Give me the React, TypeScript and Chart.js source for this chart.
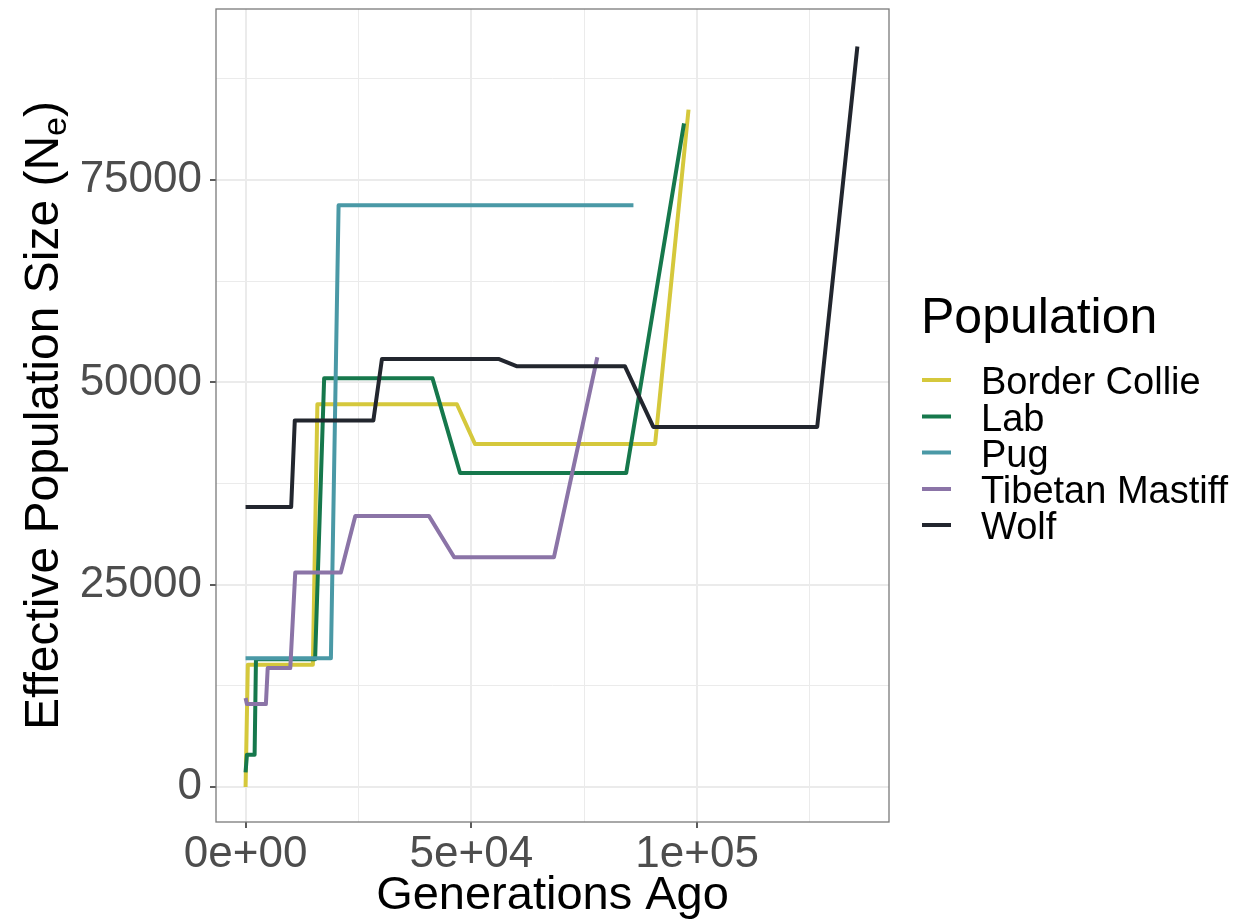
import React, { useEffect, useRef } from 'react';
import { Chart, registerables } from 'chart.js';

Chart.register(...registerables);

// Effective population size trajectories (generations ago vs. Ne)
const borderCollieGen = [0, 500, 14900, 15900, 46800, 50800, 90700, 98100];
const borderCollieNe = [0, 15100, 15100, 47300, 47300, 42400, 42400, 83700];

const labGen = [0, 300, 2000, 2300, 15400, 17400, 41400, 47500, 84300, 97100];
const labNe = [1800, 4000, 4000, 15800, 15800, 50500, 50500, 38800, 38800, 82000];

const pugGen = [0, 18900, 20600, 85900];
const pugNe = [15900, 15900, 71900, 71900];

const mastiffGen = [0, 300, 4500, 4900, 9900, 11000, 21100, 24300, 40600, 46200, 68300, 77900];
const mastiffNe = [11000, 10250, 10250, 14700, 14700, 26500, 26500, 33500, 33500, 28400, 28400, 53100];

const wolfGen = [0, 10100, 10900, 28300, 30200, 56000, 60000, 84000, 90300, 126600, 135500];
const wolfNe = [34600, 34600, 45300, 45300, 52900, 52900, 52000, 52000, 44500, 44500, 91500];

const populations = ['Border Collie', 'Lab', 'Pug', 'Tibetan Mastiff', 'Wolf'];
const populationColors = ['#D5C83C', '#16784C', '#4A99A6', '#8B74A7', '#22262E'];
const seriesGen = [borderCollieGen, labGen, pugGen, mastiffGen, wolfGen];
const seriesNe = [borderCollieNe, labNe, pugNe, mastiffNe, wolfNe];

// Axis ticks
const xMajorTicks = [0, 50000, 100000];
const xTickLabels = ['0e+00', '5e+04', '1e+05'];
const xMinorTicks = [25000, 75000, 125000];
const yMajorTicks = [0, 25000, 50000, 75000];
const yTickLabels = ['0', '25000', '50000', '75000'];
const yMinorTicks = [12500, 37500, 62500, 87500];

const FONT = "'Liberation Sans', Arial, Helvetica, sans-serif";
const GRID = '#EBEBEB';
const TICK_TEXT = '#4D4D4D';
const TICK_MARK = '#333333';

const W = 1244;
const H = 924;

function gridOptions(major: number[]) {
  const isMajor = (v: number) => major.indexOf(v) >= 0;
  return {
    color: GRID,
    lineWidth: (c: any) => (isMajor(c.tick?.value) ? 2 : 1),
    drawTicks: true,
    tickLength: 6,
    tickColor: (c: any) => (isMajor(c.tick?.value) ? TICK_MARK : 'rgba(0,0,0,0)'),
    tickWidth: 1.6,
  };
}

const decorPlugin = {
  id: 'decor',
  afterDraw(chart: any) {
    const { ctx, chartArea: a } = chart;
    ctx.save();

    // panel border
    ctx.strokeStyle = '#7A7A7A';
    ctx.lineWidth = 1.3;
    ctx.strokeRect(a.left, a.top, a.right - a.left, a.bottom - a.top);

    // y-axis title with subscript e
    const main = 'Effective Population Size (N';
    const sub = 'e';
    const close = ')';
    const big = 48;
    const small = 34;
    ctx.fillStyle = '#000';
    ctx.textBaseline = 'alphabetic';
    ctx.textAlign = 'left';
    ctx.font = `${big}px ${FONT}`;
    const w1 = ctx.measureText(main).width;
    const w3 = ctx.measureText(close).width;
    ctx.font = `${small}px ${FONT}`;
    const w2 = ctx.measureText(sub).width;
    const total = w1 + w2 + w3;
    ctx.translate(58, (a.top + a.bottom) / 2);
    ctx.rotate(-Math.PI / 2);
    let x = -total / 2;
    ctx.font = `${big}px ${FONT}`;
    ctx.fillText(main, x, 0);
    x += w1;
    ctx.font = `${small}px ${FONT}`;
    ctx.fillText(sub, x, 8);
    x += w2;
    ctx.font = `${big}px ${FONT}`;
    ctx.fillText(close, x, 0);
    ctx.setTransform(1, 0, 0, 1, 0, 0);

    // legend
    ctx.fillStyle = '#000';
    ctx.font = `50px ${FONT}`;
    ctx.fillText('Population', 921, 333);
    const rowY = [380, 416.5, 452.5, 489, 525];
    ctx.font = `38px ${FONT}`;
    populations.forEach((name, i) => {
      ctx.strokeStyle = populationColors[i];
      ctx.lineWidth = 4;
      ctx.lineCap = 'butt';
      ctx.beginPath();
      ctx.moveTo(922, rowY[i]);
      ctx.lineTo(951, rowY[i]);
      ctx.stroke();
      ctx.fillStyle = '#000';
      ctx.fillText(name, 981, rowY[i] + 14);
    });
    ctx.restore();
  },
};

export default function App() {
  const canvasRef = useRef<HTMLCanvasElement | null>(null);

  useEffect(() => {
    if (!canvasRef.current) return;
    const datasets = populations.map((name, i) => ({
      label: name,
      data: seriesGen[i].map((g, j) => ({ x: g, y: seriesNe[i][j] })),
      borderColor: populationColors[i],
      backgroundColor: populationColors[i],
      borderWidth: 4,
      borderJoinStyle: 'round' as const,
      borderCapStyle: 'butt' as const,
      pointRadius: 0,
      tension: 0,
      fill: false,
      order: populations.length - i,
    }));

    const chart = new Chart(canvasRef.current, {
      type: 'line',
      data: { datasets },
      plugins: [decorPlugin],
      options: {
        animation: false,
        responsive: false,
        devicePixelRatio: 1,
        layout: { padding: { top: 9, right: W - 889, bottom: 0, left: 0 } },
        plugins: {
          legend: { display: false },
          tooltip: { enabled: false },
        },
        scales: {
          x: {
            type: 'linear',
            min: -6550,
            max: 142500,
            afterBuildTicks: (s: any) => {
              s.ticks = [...xMajorTicks, ...xMinorTicks].sort((p, q) => p - q).map((v) => ({ value: v }));
            },
            afterFit: (s: any) => {
              s.height = H - 822;
              s.paddingLeft = 0;
              s.paddingRight = 0;
            },
            grid: gridOptions(xMajorTicks),
            border: { display: false },
            ticks: {
              autoSkip: false,
              maxRotation: 0,
              minRotation: 0,
              padding: 5,
              color: TICK_TEXT,
              font: { family: FONT, size: 44, lineHeight: 1 },
              callback: (v: any) => {
                const k = xMajorTicks.indexOf(Number(v));
                return k >= 0 ? xTickLabels[k] : '';
              },
            },
            title: {
              display: true,
              text: 'Generations Ago',
              color: '#000',
              font: { family: FONT, size: 47, lineHeight: 1 },
              padding: { top: 0, bottom: 4 },
            },
          },
          y: {
            type: 'linear',
            min: -4325,
            max: 96140,
            afterBuildTicks: (s: any) => {
              s.ticks = [...yMajorTicks, ...yMinorTicks].sort((p, q) => p - q).map((v) => ({ value: v }));
            },
            afterFit: (s: any) => {
              s.width = 216;
              s.paddingTop = 0;
              s.paddingBottom = 0;
            },
            grid: gridOptions(yMajorTicks),
            border: { display: false },
            ticks: {
              autoSkip: false,
              padding: 8,
              color: TICK_TEXT,
              font: { family: FONT, size: 44, lineHeight: 1 },
              callback: (v: any) => {
                const k = yMajorTicks.indexOf(Number(v));
                return k >= 0 ? yTickLabels[k] : '';
              },
            },
          },
        },
      },
    });
    return () => chart.destroy();
  }, []);

  return (
    <div style={{ position: 'fixed', left: 0, top: 0, width: W, height: H, background: '#fff' }}>
      <canvas ref={canvasRef} width={W} height={H} style={{ display: 'block' }} />
    </div>
  );
}
